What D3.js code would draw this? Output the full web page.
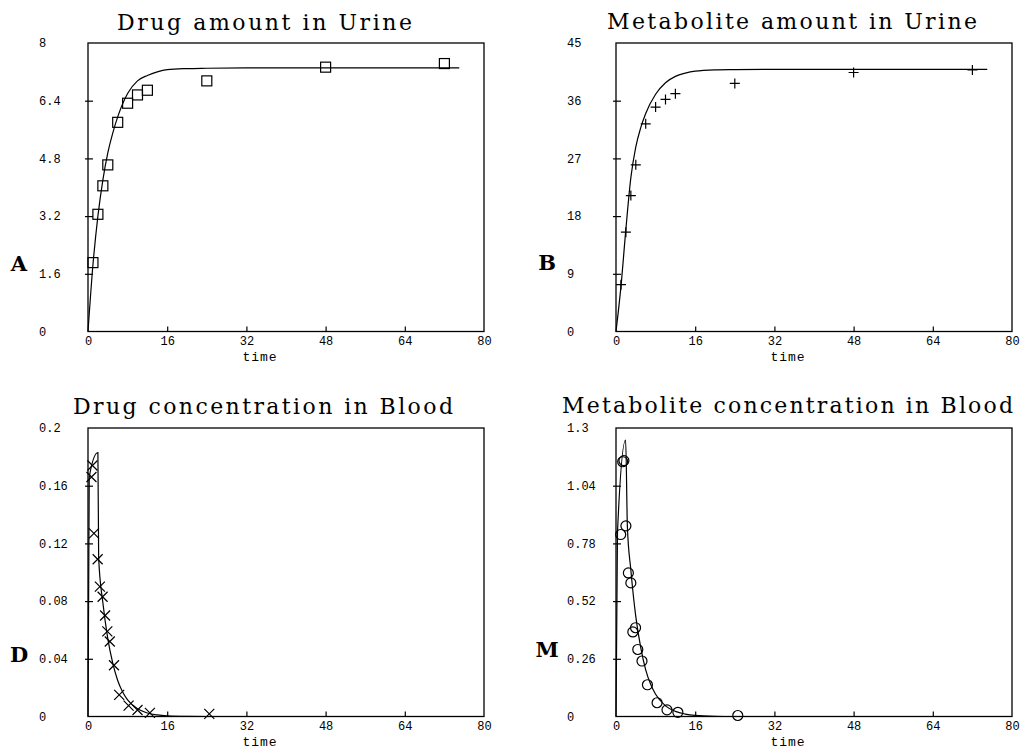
<!DOCTYPE html>
<html>
<head>
<meta charset="utf-8">
<script src="https://cdn.jsdelivr.net/npm/d3@7"></script>
<style>
  body { margin: 0; background: #fff; }
  svg { display: block; }
  .tick text { font-family: "Liberation Mono", monospace; font-size: 12px; fill: #000; }
  .tick line { stroke: #000; stroke-width: 1.2; }
</style>
</head>
<body>
<div id="chart"></div>
<script>
// axis ticks
var timeTicks = [0, 16, 32, 48, 64, 80]
var drugUrineTicks = [0, 1.6, 3.2, 4.8, 6.4, 8]
var metabUrineTicks = [0, 9, 18, 27, 36, 45]
var drugBloodTicks = [0, 0.04, 0.08, 0.12, 0.16, 0.2]
var metabBloodTicks = [0, 0.26, 0.52, 0.78, 1.04, 1.3]

// observed points
var drugUrineTime = [1, 2, 3, 4, 6, 8, 10, 12, 24, 48, 72]
var drugUrineObs = [1.91, 3.25, 4.04, 4.62, 5.8, 6.33, 6.56, 6.69, 6.95, 7.33, 7.43]
var metabUrineTime = [1, 2, 3, 4, 6, 8, 10, 12, 24, 48, 72]
var metabUrineObs = [7.3, 15.5, 21.2, 26.0, 32.4, 35.0, 36.2, 37.1, 38.7, 40.4, 40.8]
var drugBloodTime = [0.9, 0.7, 1.2, 1.95, 2.4, 2.95, 3.45, 3.9, 4.4, 5.25, 6.3, 8.2, 10, 12.5, 24.5]
var drugBloodObs = [0.174, 0.166, 0.127, 0.109, 0.090, 0.083, 0.070, 0.059, 0.052, 0.0355, 0.015, 0.0075, 0.0045, 0.0025, 0.0018]
var metabBloodTime = [0.95, 1.35, 1.6, 2.0, 2.5, 3.0, 3.4, 3.95, 4.4, 5.25, 6.35, 8.3, 10.3, 12.5, 24.6]
var metabBloodObs = [0.82, 1.148, 1.153, 0.859, 0.647, 0.602, 0.381, 0.400, 0.302, 0.250, 0.143, 0.062, 0.030, 0.019, 0.0045]

// fitted curves
var drugUrineFitTime = [0, 1, 2, 3, 4, 5, 6, 8, 10, 12, 14, 16, 20, 24, 32, 48, 75]
var drugUrineFit = [0, 1.85, 3.2, 4.2, 4.95, 5.5, 5.95, 6.6, 6.95, 7.1, 7.2, 7.26, 7.29, 7.3, 7.31, 7.31, 7.31]
var metabUrineFitTime = [0, 1, 2, 3, 4, 5, 6, 8, 10, 12, 14, 16, 20, 24, 32, 75]
var metabUrineFit = [0, 7, 16, 24, 28.8, 31.8, 34, 37, 38.8, 39.8, 40.3, 40.6, 40.8, 40.85, 40.9, 40.9]
var drugBloodFitTime = [0, 0.25, 2, 2.15, 3, 4, 5, 6, 7, 8, 10, 12, 14, 16, 20, 24, 75]
var drugBloodFit = [0, 0.166, 0.183, 0.11, 0.079, 0.054, 0.037, 0.025, 0.017, 0.0115, 0.0053, 0.0024, 0.0011, 0.0005, 0.0001, 0, 0]
var metabBloodFitTime = [0, 0.3, 1.95, 2.3, 3, 4, 5, 6, 7, 8, 10, 12, 14, 16, 20, 24, 75]
var metabBloodFit = [0, 0.83, 1.246, 0.855, 0.66, 0.45, 0.31, 0.21, 0.145, 0.1, 0.048, 0.023, 0.011, 0.005, 0.001, 0, 0]

var width = 1021,
    height = 749,
    plotW = 396,
    plotH = 288.5

var panels = [
    { title: 'Drug amount in Urine', letter: 'A', left: 88, top: 43, titleSpan: [117, 412], titleY: 30, letterY: 271,
      ticks: drugUrineTicks, t: drugUrineTime, v: drugUrineObs, ft: drugUrineFitTime, fv: drugUrineFit, marker: 'square' },
    { title: 'Metabolite amount in Urine', letter: 'B', left: 616, top: 43, titleSpan: [607, 977], titleY: 29, letterY: 270,
      ticks: metabUrineTicks, t: metabUrineTime, v: metabUrineObs, ft: metabUrineFitTime, fv: metabUrineFit, marker: 'plus' },
    { title: 'Drug concentration in Blood', letter: 'D', left: 88, top: 428, titleSpan: [73, 453], titleY: 414, letterY: 662,
      ticks: drugBloodTicks, t: drugBloodTime, v: drugBloodObs, ft: drugBloodFitTime, fv: drugBloodFit, marker: 'cross' },
    { title: 'Metabolite concentration in Blood', letter: 'M', left: 616, top: 428, titleSpan: [562, 1013], titleY: 413, letterY: 657,
      ticks: metabBloodTicks, t: metabBloodTime, v: metabBloodObs, ft: metabBloodFitTime, fv: metabBloodFit, marker: 'circle' }
]

var svg = d3.select('#chart').append('svg')
    .attr('width', width)
    .attr('height', height)

svg.append('rect').attr('width', width).attr('height', height).attr('fill', '#fff')

var fmt = d => String(+d.toFixed(4))

panels.forEach(function (p) {
    var x = d3.scaleLinear().domain([0, 80]).range([0, plotW])
    var y = d3.scaleLinear().domain([0, p.ticks[p.ticks.length - 1]]).range([plotH, 0])

    var g = svg.append('g').attr('transform', `translate(${p.left}, ${p.top})`)

    // title
    svg.append('text')
        .attr('x', p.titleSpan[0])
        .attr('y', p.titleY)
        .attr('textLength', p.titleSpan[1] - p.titleSpan[0])
        .attr('lengthAdjust', 'spacing')
        .style('font-family', '"DejaVu Serif", serif')
        .style('font-size', '22px')
        .text(p.title)

    // panel letter
    svg.append('text')
        .attr('x', p.left - 69)
        .attr('y', p.letterY)
        .attr('text-anchor', 'middle')
        .style('font-family', '"DejaVu Serif", serif')
        .style('font-size', '21px')
        .style('font-weight', 'bold')
        .text(p.letter)

    // y axis, ticks pointing inward, labels left aligned
    var yAxis = d3.axisLeft(y).tickValues(p.ticks).tickFormat(fmt).tickSizeInner(-5).tickSizeOuter(0)
    var ya = g.append('g').call(yAxis)
    ya.select('.domain').remove()
    ya.selectAll('.tick line').attr('x1', -3).attr('x2', 5)
    ya.selectAll('.tick text')
        .attr('x', -49)
        .attr('dy', '0.32em')
        .attr('text-anchor', 'start')
    ya.selectAll('.tick').filter(d => d === 0 || d === p.ticks[p.ticks.length - 1]).select('line').remove()

    // x axis
    var xAxis = d3.axisBottom(x).tickValues(timeTicks).tickFormat(fmt).tickSizeInner(-5).tickSizeOuter(0)
    var xa = g.append('g').attr('transform', `translate(0, ${plotH})`).call(xAxis)
    xa.select('.domain').remove()
    xa.selectAll('.tick text').attr('y', 10).attr('dy', '0.32em')
    xa.selectAll('.tick').filter(d => d === 0 || d === 80).select('line').remove()

    g.append('text')
        .attr('x', plotW / 2 - 26)
        .attr('y', plotH + 29)
        .attr('text-anchor', 'middle')
        .style('font-family', '"Liberation Mono", monospace')
        .style('font-size', '13px')
        .style('letter-spacing', '1px')
        .text('time')

    // frame
    g.append('rect')
        .attr('width', plotW)
        .attr('height', plotH)
        .attr('fill', 'none')
        .attr('stroke', '#000')
        .attr('stroke-width', 1.3)

    // fitted curve
    var fit = p.ft.map((t, i) => [t, p.fv[i]])
    var line = d3.line()
        .x(d => x(d[0]))
        .y(d => y(d[1]))
        .curve(d3.curveMonotoneX)
    g.append('path')
        .datum(fit)
        .attr('d', line)
        .attr('fill', 'none')
        .attr('stroke', '#000')
        .attr('stroke-width', 1.2)

    // observed markers
    var pts = p.t.map((t, i) => [t, p.v[i]])
    var m = g.append('g').selectAll('g')
        .data(pts)
        .enter().append('g')
        .attr('transform', d => `translate(${x(d[0])}, ${y(d[1])})`)
        .attr('fill', 'none')
        .attr('stroke', '#000')
        .attr('stroke-width', 1.2)

    var r = 5
    if (p.marker === 'square') {
        m.append('rect').attr('x', -r).attr('y', -r).attr('width', r * 2).attr('height', r * 2)
    } else if (p.marker === 'plus') {
        m.append('path').attr('d', `M${-r},0H${r}M0,${-r}V${r}`)
    } else if (p.marker === 'cross') {
        m.append('path').attr('d', `M${-r},${-r}L${r},${r}M${-r},${r}L${r},${-r}`)
    } else {
        m.append('circle').attr('r', r)
    }
})
</script>
</body>
</html>
